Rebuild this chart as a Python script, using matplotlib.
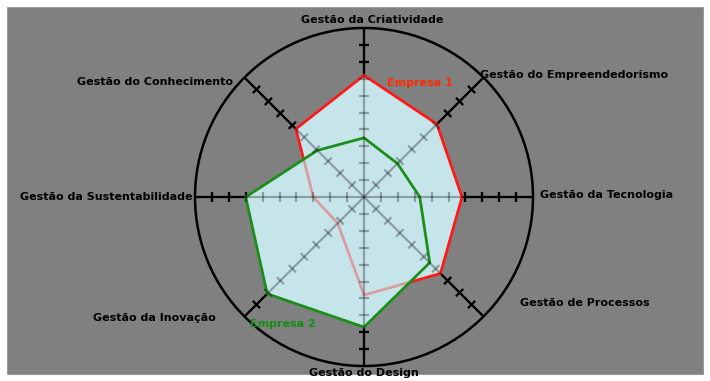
import numpy as np
import matplotlib
matplotlib.use("Agg")
import matplotlib.pyplot as plt
from matplotlib.patches import Rectangle, Circle, Polygon

categories = ["Gestão da Criatividade", "Gestão do Empreendedorismo", "Gestão da Tecnologia",
              "Gestão de Processos", "Gestão do Design", "Gestão da Inovação",
              "Gestão da Sustentabilidade", "Gestão do Conhecimento"]
empresa1 = [7.2, 6.1, 5.8, 6.4, 5.8, 2.2, 3.0, 5.7]
empresa2 = [3.5, 2.8, 3.3, 5.5, 7.7, 8.1, 7.0, 3.9]
series_names = ["Empresa 1", "Empresa 2"]
rmax = 10

W, H, DPI = 710, 381, 100
cx, cy = 364, 197          # centre in pixels (from top)
unit = 16.9                # pixels per value unit

fig = plt.figure(figsize=(W / DPI, H / DPI), dpi=DPI, facecolor="white")
ax = fig.add_axes([0, 0, 1, 1])
ax.set_xlim(-cx / unit, (W - cx) / unit)
ax.set_ylim(-(H - cy) / unit, cy / unit)
ax.axis("off")

# gray panel
ax.add_patch(Rectangle((7 / W, 7 / H), 1 - 14 / W, 1 - 14 / H,
                       transform=ax.transAxes, facecolor="#808080",
                       edgecolor="#9a9a9a", lw=0.8, zorder=0))

n = len(categories)
angles = np.pi / 2 - np.arange(n) * 2 * np.pi / n


def draw_spokes(color, alpha, z):
    for a in angles:
        ax.plot([0, rmax * np.cos(a)], [0, rmax * np.sin(a)], color=color,
                lw=1.6, alpha=alpha, zorder=z, solid_capstyle="butt")
        px, py = -np.sin(a), np.cos(a)
        for k in range(1, rmax):
            x0, y0 = k * np.cos(a), k * np.sin(a)
            ax.plot([x0 - 0.3 * px, x0 + 0.3 * px], [y0 - 0.3 * py, y0 + 0.3 * py],
                    color=color, lw=1.6, alpha=alpha, zorder=z, solid_capstyle="butt")


draw_spokes("black", 1.0, 1)
ax.add_patch(Circle((0, 0), rmax, fill=False, edgecolor="black", lw=1.8, zorder=1))

fill_col = "#c6e5ea"
p1 = np.column_stack([np.array(empresa1) * np.cos(angles), np.array(empresa1) * np.sin(angles)])
p2 = np.column_stack([np.array(empresa2) * np.cos(angles), np.array(empresa2) * np.sin(angles)])

ax.add_patch(Polygon(p1, closed=True, facecolor=fill_col, edgecolor="none", zorder=2))
ax.add_patch(Polygon(p2, closed=True, facecolor=fill_col, edgecolor="none", zorder=2))
ax.add_patch(Polygon(p1, closed=True, facecolor="none", edgecolor="#ff1a1a", lw=2.0, zorder=3))
ax.add_patch(Polygon(p2, closed=True, facecolor=fill_col, alpha=0.65, edgecolor="none", zorder=4))
ax.add_patch(Polygon(p2, closed=True, facecolor="none", edgecolor="#1a8f1a", lw=2.0, zorder=5))

draw_spokes("black", 0.3, 6)

font = dict(fontsize=8.0, fontweight="bold", family=["DejaVu Sans"])

# category labels: pixel offsets from centre and alignment
label_layout = [(8, -177, "center"), (116, -122, "left"), (176, -2, "left"),
                (156, 106, "left"), (0, 176, "center"), (-148, 121, "right"),
                (-172, 0, "right"), (-131, -115, "right")]
for name, (dx, dy, ha) in zip(categories, label_layout):
    ax.text(dx / unit, -dy / unit, name, ha=ha, va="center", color="black", zorder=7, **font)

ax.text(23 / unit, 114 / unit, series_names[0], ha="left", va="center",
        color="#ff2a00", zorder=7, **font)
ax.text(-114 / unit, -127 / unit, series_names[1], ha="left", va="center",
        color="#109010", zorder=7, **font)

fig.savefig("out.png", dpi=DPI, facecolor="white")
